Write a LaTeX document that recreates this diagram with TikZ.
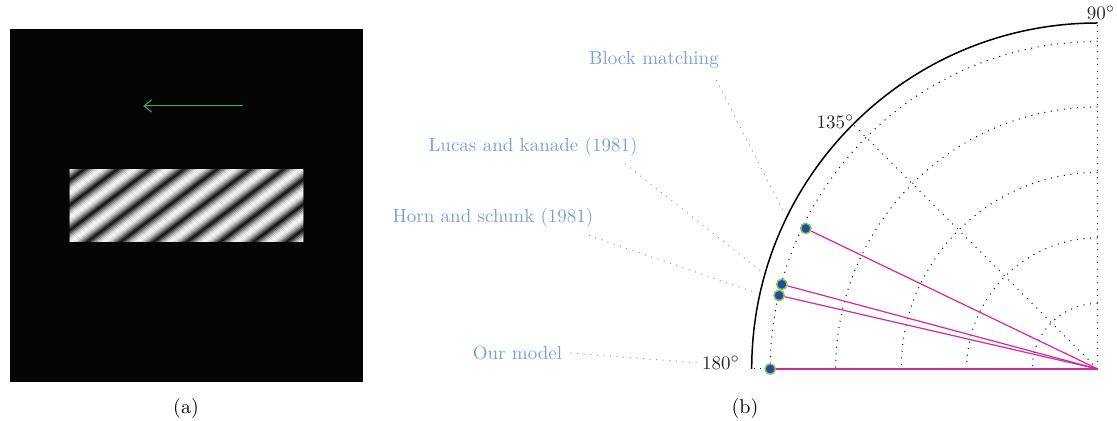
\documentclass[tikz,border=0pt]{standalone}
\usepackage{xcolor}
\usepackage{tikz}
\usetikzlibrary{arrows.meta}
\definecolor{labelblue}{RGB}{122,160,210}
\definecolor{raymagenta}{RGB}{214,38,160}
\definecolor{dotblue}{RGB}{42,72,158}
\definecolor{dotgreen}{RGB}{128,202,84}
\definecolor{arrowgreen}{RGB}{76,175,80}
\definecolor{panelblack}{RGB}{5,5,5}

\begin{document}
\begin{tikzpicture}[x=0.5pt,y=0.5pt,
    grid/.style={black, line width=0.5pt, dash pattern=on 0.5pt off 2.8pt},
    leader/.style={labelblue, line width=0.5pt, dash pattern=on 0.5pt off 2.8pt},
    ray/.style={raymagenta, line width=0.6pt},
    res/.style={circle, fill=dotblue, draw=dotgreen, line width=0.7pt, minimum size=5.2pt, inner sep=0pt},
    lbl/.style={text=labelblue, font=\fontsize{9.5}{11}\selectfont, inner sep=0pt},
    deg/.style={text=black!85, font=\fontsize{9.5}{11}\selectfont, inner sep=0pt}]
  \useasboundingbox (0,0) rectangle (1117,421);

  % (a) grating and motion
  \node[fill=panelblack, minimum width=176.5pt, minimum height=176.5pt, inner sep=0pt] (panel) at (186.5,215.5) {};
  \node[minimum width=116.5pt, minimum height=35.5pt, inner sep=0pt] (patch) at (panel.center) {};
  \begin{scope}
    \clip (patch.south west) rectangle (patch.north east);
    \begin{scope}[shift={(patch.center)}, rotate=37]
      \foreach \k in {0,...,180}{
        \pgfmathsetmacro\yy{-126+1.4*\k}
        \pgfmathtruncatemacro\g{7+90*(0.001+0.5+0.5*cos(18*\yy))^0.6}
        \fill[white!\g!black] (-130,\yy) rectangle (130,\yy+1.6);
      }
    \end{scope}
  \end{scope}
  \coordinate (tail) at (242.7,315);
  \coordinate (head) at (143.3,315);
  \draw[arrowgreen, line width=0.5pt, -{Straight Barb[length=3.7pt,width=6pt]}] (tail) -- (head);
  \node (capa) at (186,12) {(a)};

  % (b) polar plot
  \coordinate (o) at (1097.7,52);
  \begin{scope}[shift={(o)}]
    \foreach \r in {1,...,5}
      \draw[grid] (90:{65.5*\r}) arc[start angle=90, end angle=180, radius=65.5*\r];
    \foreach \a in {90,135,180}
      \draw[grid] (0,0) -- (\a:346);
    \draw[black, line width=0.75pt] (90:346) arc[start angle=90, end angle=180, radius=346];
    \node[res] (bm) at (154.3:324) {};
    \node[res] (lk) at (165:327) {};
    \node[res] (hs) at (167:327) {};
    \node[res] (om) at (180:327.5) {};
  \end{scope}
  \foreach \p in {bm,lk,hs,om}
    \draw[ray] (o) -- (\p);

  \node[deg] (d90) at (1101,408) {90$^\circ$};
  \node[deg] (d135) at (835.5,299) {135$^\circ$};
  \node[deg] (d180) at (721,58) {180$^\circ$};

  \node[lbl] (bml) at (654,361) {Block matching};
  \node[lbl] (lkl) at (533,274.3) {Lucas and kanade (1981)};
  \node[lbl] (hsl) at (493,203) {Horn and schunk (1981)};
  \node[lbl] (oml) at (517.5,68) {Our model};
  \coordinate (bmtip) at (783,210);
  \coordinate (lktip) at (761.7,149.3);
  \coordinate (hstip) at (756.7,128);
  \draw[leader] ([shift={(-3,-11)}]bml.south east) -- (bmtip);
  \draw[leader] ([shift={(-13,-7)}]lkl.south east) -- (lktip);
  \draw[leader] ([shift={(-5,-7.5)}]hsl.south east) -- (hstip);
  \draw[leader] ([xshift=4]oml.east) -- (d180.west);
  \node (capb) at (745,12) {(b)};
\end{tikzpicture}
\end{document}
